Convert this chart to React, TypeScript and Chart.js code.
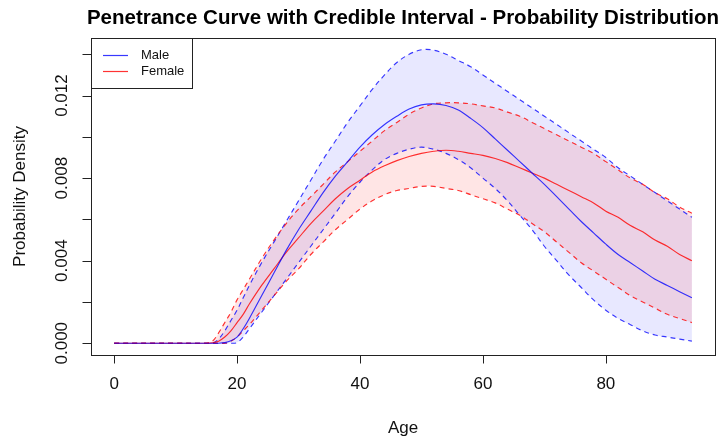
import React, { useEffect, useRef } from "react";
import { Chart, registerables } from "chart.js";

Chart.register(...registerables);

const ages = [0, 10, 15, 16, 17, 18, 19, 20, 21, 22, 24, 26, 28, 30, 32, 34, 36, 38, 40, 42, 44, 46, 48, 50, 52, 54, 56, 58, 60, 62, 64, 66, 68, 70, 72, 74, 76, 78, 80, 82, 84, 86, 88, 90, 92, 94];

const maleMean = [0, 0, 0, 0, 0, 0.00003, 0.00012, 0.0003, 0.0007, 0.0012, 0.0023, 0.0034, 0.0045, 0.0055, 0.0064, 0.0073, 0.0081, 0.0088, 0.0095, 0.0101, 0.0106, 0.011, 0.01135, 0.01155, 0.0116, 0.01152, 0.0113, 0.0109, 0.01045, 0.0099, 0.00935, 0.0088, 0.00825, 0.0077, 0.0071, 0.0065, 0.0059, 0.00535, 0.0048, 0.0043, 0.0039, 0.0035, 0.0031, 0.0028, 0.0025, 0.0022];
const maleUpper = [0, 0, 0, 0, 0.0002, 0.0006, 0.0011, 0.0016, 0.0022, 0.0028, 0.0039, 0.0049, 0.0059, 0.0069, 0.0079, 0.0089, 0.0098, 0.0107, 0.0115, 0.0123, 0.013, 0.0136, 0.014, 0.01422, 0.0142, 0.014, 0.0137, 0.0134, 0.013, 0.0126, 0.0122, 0.0118, 0.0114, 0.011, 0.0106, 0.0102, 0.0098, 0.0094, 0.009, 0.0085, 0.0081, 0.0077, 0.0073, 0.0069, 0.0065, 0.0061];
const maleLower = [0, 0, 0, 0, 0, 0, 0, 0.00003, 0.0003, 0.0007, 0.0015, 0.0023, 0.0031, 0.0039, 0.0047, 0.0055, 0.0063, 0.0071, 0.0078, 0.0084, 0.0089, 0.0092, 0.0094, 0.0095, 0.0094, 0.0092, 0.0089, 0.0085, 0.008, 0.0075, 0.0069, 0.0062, 0.0055, 0.0047, 0.004, 0.0033, 0.0027, 0.0021, 0.0016, 0.0012, 0.0009, 0.0006, 0.0004, 0.0003, 0.0002, 0.0001];

const femaleMean = [0, 0, 0, 0.00002, 0.0001, 0.0003, 0.0006, 0.001, 0.0014, 0.0019, 0.0028, 0.0036, 0.0044, 0.0051, 0.0058, 0.0064, 0.007, 0.0075, 0.0079, 0.0083, 0.0086, 0.00885, 0.00905, 0.0092, 0.0093, 0.00935, 0.0093, 0.0092, 0.0091, 0.00895, 0.00875, 0.0085, 0.00825, 0.008, 0.0077, 0.0074, 0.0071, 0.0068, 0.0064, 0.0061, 0.0057, 0.0054, 0.005, 0.0047, 0.0043, 0.004];
const femaleUpper = [0, 0, 0, 0.0001, 0.0005, 0.001, 0.0015, 0.0021, 0.0026, 0.0031, 0.0041, 0.005, 0.0058, 0.0065, 0.0071, 0.0077, 0.0083, 0.0088, 0.0093, 0.0098, 0.0103, 0.0107, 0.0111, 0.0114, 0.0116, 0.01165, 0.01165, 0.0116, 0.0115, 0.0114, 0.0112, 0.011, 0.0107, 0.0104, 0.0101, 0.0098, 0.0095, 0.0092, 0.0088, 0.0084, 0.008, 0.0077, 0.0073, 0.007, 0.0066, 0.0063];
const femaleLower = [0, 0, 0, 0, 0, 0, 0.0001, 0.0003, 0.0006, 0.0009, 0.0016, 0.0023, 0.003, 0.0036, 0.0043, 0.0049, 0.0055, 0.006, 0.0065, 0.0069, 0.0072, 0.0074, 0.0075, 0.0076, 0.0076, 0.0075, 0.0074, 0.0072, 0.007, 0.0068, 0.0065, 0.0062, 0.0058, 0.0054, 0.0049, 0.0044, 0.0039, 0.0035, 0.0031, 0.0027, 0.0023, 0.002, 0.0017, 0.0014, 0.0012, 0.001];

const xTicks = [0, 20, 40, 60, 80];
const yTicks = [0, 0.002, 0.004, 0.006, 0.008, 0.01, 0.012, 0.014];
const yLabelValues = [0, 0.004, 0.008, 0.012];
const yLabelTexts = ["0.000", "0.004", "0.008", "0.012"];

const titleText = "Penetrance Curve with Credible Interval - Probability Distribution";
const xTitle = "Age";
const yTitle = "Probability Density";
const legendLabels = ["Male", "Female"];

const BLUE = "rgba(0,0,255,0.78)";
const RED = "rgba(255,0,0,0.8)";
const BLUE_FILL = "rgba(0,0,255,0.09)";
const RED_FILL = "rgba(255,0,0,0.1)";
const FONT = '"Liberation Sans", Arial, Helvetica, sans-serif';

const toPts = (arr: number[]) => ages.map((a, i) => ({ x: a, y: arr[i] }));

const rAxesPlugin = {
  id: "rAxes",
  afterDraw(chart: any) {
    const { ctx, chartArea, scales } = chart;
    const xs = scales.x;
    const ys = scales.y;
    const { left, right, top, bottom } = chartArea;
    ctx.save();
    ctx.strokeStyle = "#222";
    ctx.lineWidth = 1;
    ctx.strokeRect(Math.round(left) + 0.5, Math.round(top) + 0.5, Math.round(right - left), Math.round(bottom - top));

    // x ticks
    ctx.fillStyle = "#111";
    ctx.font = "17px " + FONT;
    ctx.textAlign = "center";
    ctx.textBaseline = "middle";
    const by = Math.round(bottom) + 0.5;
    ctx.beginPath();
    ctx.moveTo(Math.round(xs.getPixelForValue(xTicks[0])) + 0.5, by);
    ctx.lineTo(Math.round(xs.getPixelForValue(xTicks[xTicks.length - 1])) + 0.5, by);
    xTicks.forEach((t) => {
      const px = Math.round(xs.getPixelForValue(t)) + 0.5;
      ctx.moveTo(px, by);
      ctx.lineTo(px, by + 8);
    });
    ctx.stroke();
    xTicks.forEach((t) => {
      ctx.fillText(String(t), xs.getPixelForValue(t), 384);
    });
    ctx.fillText(xTitle, (left + right) / 2, 428);

    // y ticks
    const lx = Math.round(left) + 0.5;
    ctx.beginPath();
    ctx.moveTo(lx, Math.round(ys.getPixelForValue(yTicks[0])) + 0.5);
    ctx.lineTo(lx, Math.round(ys.getPixelForValue(yTicks[yTicks.length - 1])) + 0.5);
    yTicks.forEach((t) => {
      const py = Math.round(ys.getPixelForValue(t)) + 0.5;
      ctx.moveTo(lx, py);
      ctx.lineTo(lx - 9, py);
    });
    ctx.stroke();
    yLabelValues.forEach((v, i) => {
      ctx.save();
      ctx.translate(62, ys.getPixelForValue(v));
      ctx.rotate(-Math.PI / 2);
      ctx.fillText(yLabelTexts[i], 0, 0);
      ctx.restore();
    });
    ctx.save();
    ctx.translate(20, (top + bottom) / 2);
    ctx.rotate(-Math.PI / 2);
    ctx.fillText(yTitle, 0, 0);
    ctx.restore();

    // title
    ctx.font = "bold 20.5px " + FONT;
    ctx.fillStyle = "#000";
    ctx.fillText(titleText, (left + right) / 2, 18);

    // legend
    const lgL = Math.round(left) + 0.5;
    const lgT = Math.round(top) + 0.5;
    ctx.fillStyle = "#fff";
    ctx.fillRect(lgL, lgT, 101, 50);
    ctx.strokeStyle = "#222";
    ctx.strokeRect(lgL, lgT, 101, 50);
    const colors = [BLUE, RED];
    const rows = [55.5, 71.5];
    ctx.font = "13px " + FONT;
    ctx.textAlign = "left";
    legendLabels.forEach((lab, i) => {
      ctx.strokeStyle = colors[i];
      ctx.lineWidth = 1.2;
      ctx.beginPath();
      ctx.moveTo(103, rows[i]);
      ctx.lineTo(128, rows[i]);
      ctx.stroke();
      ctx.fillStyle = "#111";
      ctx.fillText(lab, 141, rows[i]);
    });
    ctx.restore();
  },
};

export default function App() {
  const ref = useRef<HTMLCanvasElement | null>(null);
  useEffect(() => {
    document.body.style.margin = "0";
    const canvas = ref.current;
    if (!canvas) return;
    const common = { pointRadius: 0, borderWidth: 1.15, tension: 0.35 };
    const chart = new Chart(canvas, {
      type: "line",
      data: {
        datasets: [
          { ...common, label: "Male", data: toPts(maleMean), borderColor: BLUE, fill: false },
          { ...common, label: "Female", data: toPts(femaleMean), borderColor: RED, fill: false },
          { ...common, label: "Female upper", data: toPts(femaleUpper), borderColor: RED, borderDash: [5, 4], fill: "+1", backgroundColor: RED_FILL },
          { ...common, label: "Female lower", data: toPts(femaleLower), borderColor: RED, borderDash: [5, 4], fill: false },
          { ...common, label: "Male upper", data: toPts(maleUpper), borderColor: BLUE, borderDash: [5, 4], fill: "+1", backgroundColor: BLUE_FILL },
          { ...common, label: "Male lower", data: toPts(maleLower), borderColor: BLUE, borderDash: [5, 4], fill: false },
        ],
      },
      options: {
        responsive: false,
        animation: false,
        devicePixelRatio: 1,
        layout: { padding: { left: 91, right: 7, top: 38, bottom: 85 } },
        scales: {
          x: { type: "linear", min: -3.76, max: 97.76, display: false },
          y: { type: "linear", min: -0.00057, max: 0.01479, display: false },
        },
        plugins: {
          legend: { display: false },
          title: { display: false },
          tooltip: { enabled: false },
          filler: { propagate: false, drawTime: "beforeDatasetsDraw" },
        } as any,
      },
      plugins: [rAxesPlugin],
    });
    return () => chart.destroy();
  }, []);
  return (
    <div style={{ width: 722, height: 440, background: "#fff" }}>
      <canvas ref={ref} width={722} height={440} style={{ display: "block" }} />
    </div>
  );
}
